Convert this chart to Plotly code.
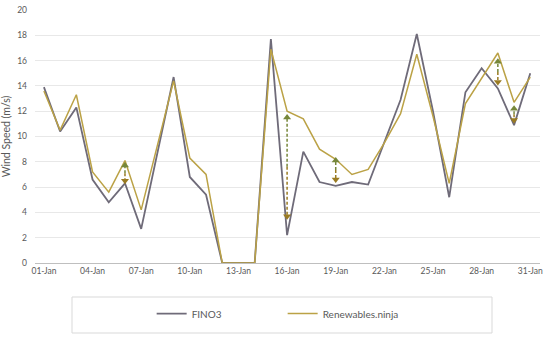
import plotly.graph_objects as go

days = list(range(1, 32))
tick_days = [1, 4, 7, 10, 13, 16, 19, 22, 25, 28, 31]
tick_labels = ["01-Jan", "04-Jan", "07-Jan", "10-Jan", "13-Jan", "16-Jan",
               "19-Jan", "22-Jan", "25-Jan", "28-Jan", "31-Jan"]

fino3 = [13.9, 10.4, 12.3, 6.6, 4.8, 6.3, 2.7, 8.6, 14.7, 6.8,
         5.4, 0.0, 0.0, 0.0, 17.7, 2.2, 8.8, 6.4, 6.1, 6.4,
         6.2, 9.6, 12.9, 18.1, 12.0, 5.2, 13.5, 15.4, 13.8, 10.9, 15.0]
ninja = [13.6, 10.5, 13.3, 7.2, 5.6, 8.1, 4.2, 9.2, 14.4, 8.3,
         7.0, 0.0, 0.0, 0.0, 16.9, 12.0, 11.4, 9.0, 8.2, 7.0,
         7.4, 9.5, 11.8, 16.5, 11.6, 6.3, 12.6, 14.6, 16.6, 12.7, 14.7]

arrow_days = [6, 16, 19, 29, 30]
arrow_top = [7.7, 11.5, 8.1, 15.9, 12.2]
arrow_bottom = [6.5, 3.7, 6.6, 14.3, 11.3]

GRAY = "#6F6B79"
GOLD = "#BBA246"
GREEN = "#76873A"
BROWN = "#9A7B22"

fig = go.Figure()
fig.add_trace(go.Scatter(x=days, y=fino3, mode="lines", name="FINO3",
                         line=dict(color=GRAY, width=1.8)))
fig.add_trace(go.Scatter(x=days, y=ninja, mode="lines", name="Renewables.ninja",
                         line=dict(color=GOLD, width=1.5)))

# dashed difference arrows
gx, gy, bx, by = [], [], [], []
for d, t, b in zip(arrow_days, arrow_top, arrow_bottom):
    m = (t + b) / 2
    gx += [d, d, None]
    gy += [m, t, None]
    bx += [d, d, None]
    by += [m, b, None]
fig.add_trace(go.Scatter(x=gx, y=gy, mode="lines", showlegend=False, hoverinfo="skip",
                         line=dict(color=GREEN, width=1.5, dash="3px,2px")))
fig.add_trace(go.Scatter(x=bx, y=by, mode="lines", showlegend=False, hoverinfo="skip",
                         line=dict(color=BROWN, width=1.5, dash="3px,2px")))
fig.add_trace(go.Scatter(x=arrow_days, y=arrow_top, mode="markers", showlegend=False,
                         hoverinfo="skip",
                         marker=dict(symbol="triangle-up", size=7, color=GREEN)))
fig.add_trace(go.Scatter(x=arrow_days, y=arrow_bottom, mode="markers", showlegend=False,
                         hoverinfo="skip",
                         marker=dict(symbol="triangle-down", size=7, color=BROWN)))

fig.update_layout(
    width=550, height=338,
    margin=dict(l=35, r=10, t=10, b=75, autoexpand=False),
    paper_bgcolor="white", plot_bgcolor="white",
    font=dict(family="Lato, Open Sans, sans-serif", size=9, color="#595959"),
    xaxis=dict(range=[0.45, 31.6], tickvals=tick_days, ticktext=tick_labels,
               showgrid=False, zeroline=False, showline=True, linecolor="#BFBFBF",
               linewidth=1, ticks="", tickfont=dict(size=8.5), automargin=False),
    yaxis=dict(range=[0, 20], dtick=2, showgrid=True, gridcolor="#E8E8E8",
               zeroline=False, showline=False, ticks="", ticklabelstandoff=7,
               automargin=False,
               title=dict(text="Wind Speed (m/s)", standoff=4,
                          font=dict(size=10.5, color="#595959")),
               tickfont=dict(size=8.5)),
    legend=dict(orientation="h", x=0.231, y=-0.2, xanchor="left", yanchor="middle",
                bgcolor="rgba(0,0,0,0)", font=dict(size=10, color="#595959"),
                entrywidth=86, entrywidthmode="pixels"),
    shapes=[dict(type="rect", xref="paper", yref="paper",
                 x0=(72 - 35) / 505, x1=(492 - 35) / 505,
                 y0=-(333 - 263) / 253, y1=-(297 - 263) / 253,
                 line=dict(color="#D9D9D9", width=1), fillcolor="rgba(0,0,0,0)")],
)

fig.write_html("out.html", config={"displayModeBar": False},
               post_script="document.body.style.margin='0';document.body.style.overflow='hidden';")
